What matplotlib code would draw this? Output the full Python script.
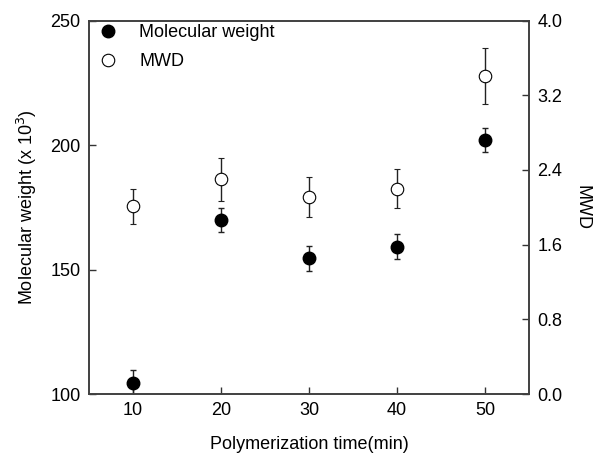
import numpy as np
import matplotlib.pyplot as plt
from matplotlib.lines import Line2D

plt.rcParams['font.family'] = ['Liberation Sans', 'DejaVu Sans']
plt.rcParams['font.size'] = 13

# donnees
temps = [10, 20, 30, 40, 50]
mw = [104.5, 169.9, 154.5, 159.2, 202.0]
mw_err = [5.0, 4.8, 5.0, 5.0, 4.8]
mwd = [2.01, 2.30, 2.11, 2.20, 3.41]
mwd_err = [0.19, 0.23, 0.21, 0.21, 0.30]

fig = plt.figure(figsize=(5.99, 4.59), dpi=100)
ax = fig.add_axes([0.1486, 0.1416, 0.7345, 0.8134])
ax2 = ax.twinx()

ax.errorbar(temps, mw, yerr=mw_err, fmt='o', color='black', ms=9,
            ecolor='#222222', elinewidth=1, capsize=2.5, capthick=1)
ax2.errorbar(temps, mwd, yerr=mwd_err, fmt='o', mfc='white', mec='black',
             mew=0.8, ms=9, ecolor='#222222', elinewidth=1,
             capsize=2.5, capthick=1)

ax.set_xlim(5, 55)
ax.set_ylim(100, 250)
ax2.set_ylim(0, 4.0)
ax.set_xticks([10, 20, 30, 40, 50])
ax.set_yticks([100, 150, 200, 250])
ax2.set_yticks([0.0, 0.8, 1.6, 2.4, 3.2, 4.0])
ax2.set_yticklabels(['0.0', '0.8', '1.6', '2.4', '3.2', '4.0'])

ax.tick_params(direction='in', length=5, width=1, color='#333333', pad=6)
ax2.tick_params(direction='in', length=5, width=1, color='#333333', pad=6)
for a in (ax, ax2):
    for s in a.spines.values():
        s.set_color('#404040')
        s.set_linewidth(1.2)

ax.set_xlabel('Polymerization time(min)', labelpad=12)
ax.set_ylabel('Molecular weight (x 10$^3$)', labelpad=8)
ax2.set_ylabel('MWD', rotation=270, labelpad=20)

h1 = Line2D([], [], ls='none', marker='o', color='black', ms=9)
h2 = Line2D([], [], ls='none', marker='o', mfc='white', mec='black', mew=0.8, ms=9)
ax.legend([h1, h2], ['Molecular weight', 'MWD'], loc='upper left',
          frameon=False, handletextpad=0.88, borderaxespad=0, borderpad=0.2,
          handlelength=1.7, labelspacing=0.66)

plt.savefig('out.png', dpi=100)
